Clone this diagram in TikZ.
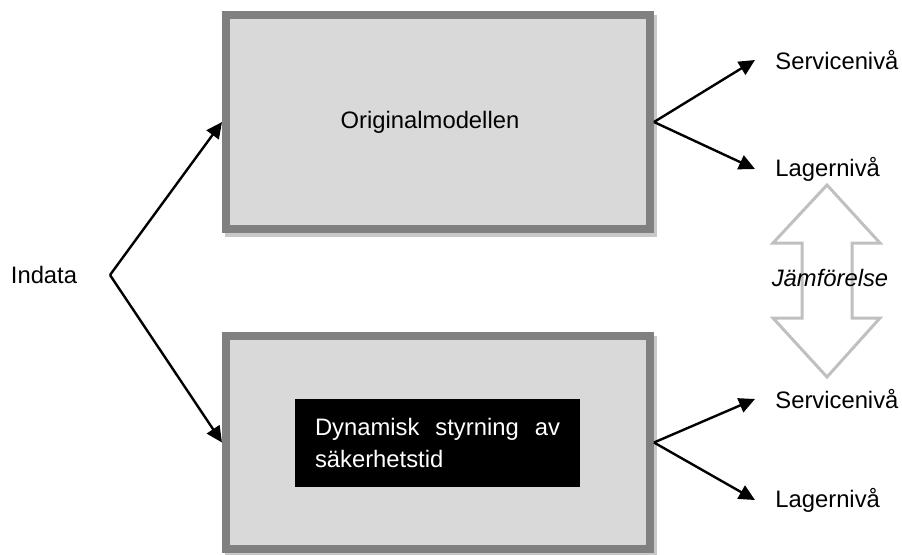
\documentclass[tikz,border=0pt]{standalone}
\usepackage{fontspec}
\setmainfont{Liberation Sans}
\usepackage{xcolor}
\usepackage{tikz}
\usetikzlibrary{calc,arrows.meta}
\definecolor{boxfill}{HTML}{D9D9D9}
\definecolor{boxedge}{HTML}{808080}
\definecolor{shade}{HTML}{C8C8C8}
\definecolor{cmpgray}{HTML}{C0C0C0}
\tikzset{
  model/.style={draw=boxedge, fill=boxfill, line width=4pt, minimum width=212pt, minimum height=107pt,
    preaction={draw=shade, fill=shade, line width=4pt, transform canvas={shift={(1.5pt,-1.8pt)}}}},
  core/.style={fill=black, text=white, text width=122.5pt, align=justify, inner xsep=10pt,
    minimum height=44pt, font=\fontsize{11.9}{16}\selectfont},
  lab/.style={font=\fontsize{11.9}{14}\selectfont, inner sep=1pt},
  result/.style={font=\fontsize{11.9}{14}\selectfont, anchor=west, inner xsep=10pt, inner ysep=1pt},
  flow/.style={draw=black, line width=1.2pt, -{Triangle[length=8pt,width=7.5pt]}},
  cmp/.style={draw=cmpgray, line width=1.5pt, line join=miter},
}
\begin{document}
\begin{tikzpicture}[x=0.5pt,y=-0.5pt]
  \useasboundingbox (0,0) rectangle (902,554);
  % models
  \node[model] (orig) at (438,122) {};
  \node[lab] (origtxt) at (430,122) {Originalmodellen};
  \node[model, minimum height=106.5pt] (dynbox) at (438,442.5) {};
  \node[core] (dyn) at (437.5,443) {Dynamisk styrning av s\"akerhetstid};
  % input
  \node[lab] (in) at (44,275) {Indata};
  \coordinate (split) at (110,275);
  \draw[flow] (split) -- (orig.west);
  \draw[flow] (split) -- (dynbox.west);
  % outputs
  \node[result] (serv1) at (755,60) {Servicenivå};
  \node[result] (lag1) at (755,169) {Lagernivå};
  \node[result] (serv2) at (755,399) {Servicenivå};
  \node[result] (lag2) at (755,500) {Lagernivå};
  \draw[flow] (orig.east) -- (serv1.west);
  \draw[flow] (orig.east) -- (lag1.west);
  \draw[flow] (dynbox.east) -- (serv2.west);
  \draw[flow] (dynbox.east) -- (lag2.west);
  % comparison arrow
  \draw[cmp] (827,185) -- (880,243) -- (852,243) -- (852,318) -- (880,318) -- (827,377)
    -- (773,318) -- (802,318) -- (802,243) -- (773,243) -- cycle;
  \node[lab, font=\fontsize{11.9}{14}\selectfont\itshape] (cmptxt) at (830,278) {Jämförelse};
\end{tikzpicture}
\end{document}
